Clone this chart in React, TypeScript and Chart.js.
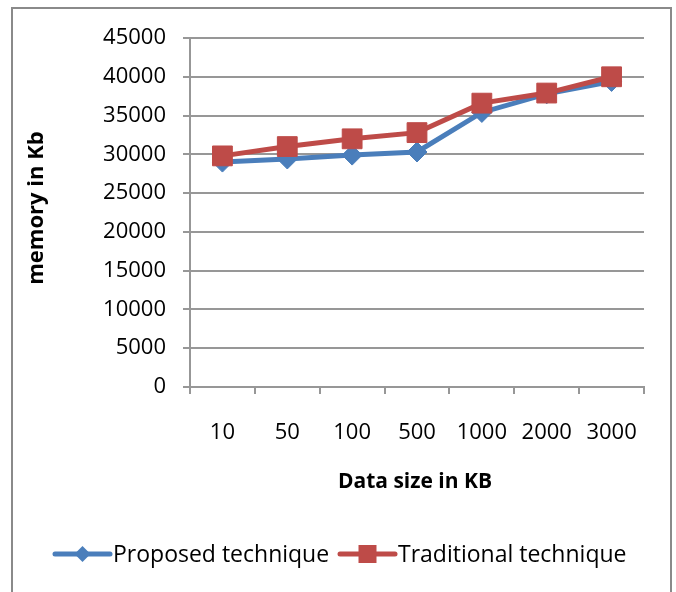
import React, { useEffect, useRef } from "react";
import { Chart, registerables } from "chart.js";

Chart.register(...registerables);

const categories = ["10", "50", "100", "500", "1000", "2000", "3000"];
const proposed = [29000, 29400, 29900, 30300, 35400, 37800, 39400];
const traditional = [29800, 31000, 32000, 32800, 36600, 37900, 40000];
const yMin = 0;
const yMax = 45000;
const yStep = 5000;
const seriesNames = ["Proposed technique", "Traditional technique"];
const xTitle = "Data size in KB";
const yTitle = "memory in Kb";

const BLUE = "#4A7EBB";
const RED = "#BE4B48";
const GRID = "#979797";
const FONT = "'Open Sans', sans-serif";

const decor = {
  id: "decor",
  afterDraw(chart: any) {
    const ctx = chart.ctx as CanvasRenderingContext2D;
    const area = chart.chartArea;
    ctx.save();
    // outer frame
    ctx.strokeStyle = "#8a8a8a";
    ctx.lineWidth = 2;
    ctx.strokeRect(12, 8, 659, 600);
    // x title
    ctx.fillStyle = "#000";
    ctx.font = `bold 21px ${FONT}`;
    ctx.textAlign = "center";
    ctx.textBaseline = "middle";
    ctx.fillText(xTitle, (area.left + area.right) / 2 - 2, 482);
    // y title
    ctx.save();
    ctx.translate(37, 208);
    ctx.rotate(-Math.PI / 2);
    ctx.font = `bold 22px ${FONT}`;
    ctx.fillText(yTitle, 0, 0);
    ctx.restore();
    // legend
    ctx.font = `23px ${FONT}`;
    ctx.textAlign = "left";
    const ly = 554;
    const items = [
      { x0: 55, x1: 110, color: BLUE, shape: "diamond", label: seriesNames[0], tx: 113 },
      { x0: 340, x1: 395, color: RED, shape: "square", label: seriesNames[1], tx: 398 },
    ];
    for (const it of items) {
      ctx.strokeStyle = it.color;
      ctx.lineWidth = 5;
      ctx.lineCap = "round";
      ctx.beginPath();
      ctx.moveTo(it.x0, ly);
      ctx.lineTo(it.x1, ly);
      ctx.stroke();
      ctx.fillStyle = it.color;
      const cx = (it.x0 + it.x1) / 2;
      ctx.beginPath();
      if (it.shape === "diamond") {
        const r = 8;
        ctx.moveTo(cx - r, ly);
        ctx.lineTo(cx, ly - r);
        ctx.lineTo(cx + r, ly);
        ctx.lineTo(cx, ly + r);
        ctx.closePath();
      } else {
        ctx.rect(cx - 9, ly - 9, 18, 18);
      }
      ctx.fill();
      ctx.fillStyle = "#000";
      ctx.fillText(it.label, it.tx, ly + 1);
    }
    ctx.restore();
  },
};

export default function App() {
  const ref = useRef<HTMLCanvasElement>(null);
  useEffect(() => {
    if (!ref.current) return;
    const chart = new Chart(ref.current, {
      type: "line",
      data: {
        labels: categories,
        datasets: [
          {
            label: seriesNames[0],
            data: proposed,
            borderColor: BLUE,
            backgroundColor: BLUE,
            borderWidth: 5,
            pointStyle: "rectRot",
            pointRadius: 10,
            pointBorderWidth: 1,
            tension: 0,
            order: 1,
          },
          {
            label: seriesNames[1],
            data: traditional,
            borderColor: RED,
            backgroundColor: RED,
            borderWidth: 5,
            pointStyle: "rect",
            pointRadius: 14,
            pointBorderWidth: 1,
            tension: 0,
            order: 0,
          },
        ],
      },
      options: {
        responsive: false,
        animation: false,
        layout: { padding: { left: 0, top: 38, right: 32, bottom: 0 } },
        plugins: {
          legend: { display: false },
          tooltip: { enabled: false },
        },
        scales: {
          x: {
            type: "category",
            offset: true,
            grid: {
              offset: true,
              drawOnChartArea: false,
              drawTicks: true,
              tickLength: 7,
              color: GRID,
              lineWidth: 2,
            },
            border: { display: true, color: GRID, width: 2 },
            ticks: {
              font: { family: FONT, size: 22 },
              color: "#000",
              padding: 26,
              maxRotation: 0,
              autoSkip: false,
            },
            afterFit(scale: any) {
              scale.height = 592 - 387;
            },
          },
          y: {
            min: yMin,
            max: yMax,
            ticks: {
              stepSize: yStep,
              font: { family: FONT, size: 22 },
              color: "#000",
              padding: 17,
              callback: (v: any) => String(v),
            },
            grid: {
              color: GRID,
              lineWidth: 2,
              tickLength: 7,
            },
            border: { display: true, color: GRID, width: 2 },
            afterFit(scale: any) {
              scale.width = 190;
            },
          },
        },
      },
      plugins: [decor],
    });
    return () => chart.destroy();
  }, []);
  return (
    <div style={{ position: "absolute", left: 0, top: 0, width: 676, height: 592, background: "#fff" }}>
      <canvas ref={ref} width={676} height={592} style={{ display: "block" }} />
    </div>
  );
}
